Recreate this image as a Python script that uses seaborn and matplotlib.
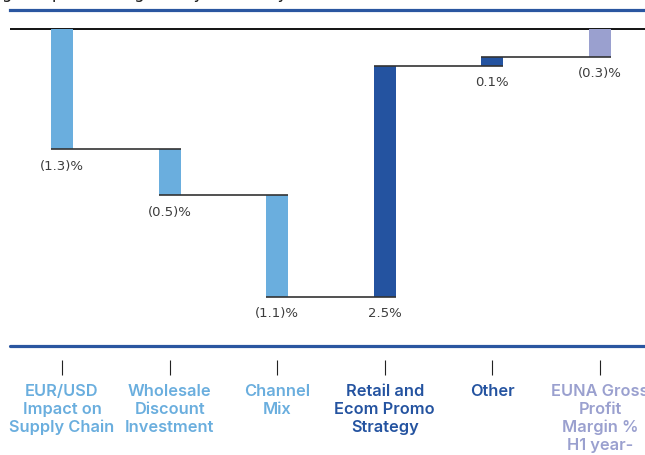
import numpy as np
import pandas as pd
import seaborn as sns
import matplotlib.pyplot as plt

# waterfall data (percentage points)
categories = ["EUR/USD\nImpact on\nSupply Chain", "Wholesale\nDiscount\nInvestment",
              "Channel\nMix", "Retail and\nEcom Promo\nStrategy", "Other",
              "EUNA Gross\nProfit\nMargin %\nH1 year-\nover-year"]
changes = [-1.3, -0.5, -1.1, 2.5, 0.1]
total = -0.3
value_labels = ["(1.3)%", "(0.5)%", "(1.1)%", "2.5%", "0.1%", "(0.3)%"]

light_blue = "#6aaede"
dark_blue = "#2453a0"
lavender = "#9aa0cf"
bar_colors = [light_blue, light_blue, light_blue, dark_blue, dark_blue, lavender]
line_blue = "#2a56a0"

ends = np.cumsum(changes)
starts = np.concatenate([[0], ends[:-1]])
df = pd.DataFrame({
    "cat": categories,
    "start": list(starts) + [0],
    "end": list(ends) + [total],
})
df["height"] = df["end"] - df["start"]
df["low"] = df[["start", "end"]].min(axis=1)

sns.set_style("white")

fig = plt.figure(figsize=(6.45, 4.55), dpi=100)
W, H = 645, 455
ax = fig.add_axes([10 / W, (H - 346) / H, 635 / W, 336 / H])

sns.barplot(data=df, x="cat", y="height", order=categories, bottom=df["start"].values,
            color=light_blue, saturation=1, width=0.204, errorbar=None, ax=ax, zorder=2)
for patch, c in zip(ax.patches, bar_colors):
    patch.set_facecolor(c)
    patch.set_edgecolor("none")

ax.set_xlim(-0.483, 5.418)
ylo, yhi = -3.43, 0.206
ax.set_ylim(ylo, yhi)

# zero line
ax.axhline(0, color="black", lw=1.3, zorder=1)

# connectors: from left of bar i to right of bar i+1
bw = 0.204
levels = list(ends)
for i, lev in enumerate(levels):
    ax.plot([i - bw / 2, i + 1 + bw / 2], [lev, lev], color="#333333", lw=1.2, zorder=3,
            solid_capstyle="butt")

# value labels under the lower end of each bar
for i, (lab, low) in enumerate(zip(value_labels, df["low"])):
    ax.annotate(lab, (i, low), xytext=(0, -7.5), textcoords="offset points",
                ha="center", va="top", fontsize=9.5, color="#3c3c3c",
                family="DejaVu Sans")

# spines / ticks
for s in ["left", "right"]:
    ax.spines[s].set_visible(False)
ax.spines["top"].set_color(line_blue)
ax.spines["top"].set_linewidth(2.3)
ax.spines["bottom"].set_position(("outward", 10))
ax.spines["bottom"].set_visible(False)
ax.axhline(ylo, color=line_blue, lw=2.3, clip_on=False, zorder=4)

ax.set_yticks([])
ax.set_xlabel("")
ax.set_ylabel("")
ax.tick_params(axis="x", bottom=True, direction="out", length=10.8, width=0.8,
               color="#222222", pad=6.5)
ax.set_xticks(range(len(categories)))
ax.set_xticklabels(categories, fontsize=11.8, fontweight="semibold", family="Inter",
                   linespacing=1.24)
for lab, c in zip(ax.get_xticklabels(), bar_colors):
    lab.set_color(c)

# clipped headline at the very top
fig.text(2 / W, 1 + 1.5 / H, "gross profit margin H1 year-over-year",
         fontsize=12, va="baseline", ha="left", color="#222222")

fig.savefig("out.png", dpi=100)
